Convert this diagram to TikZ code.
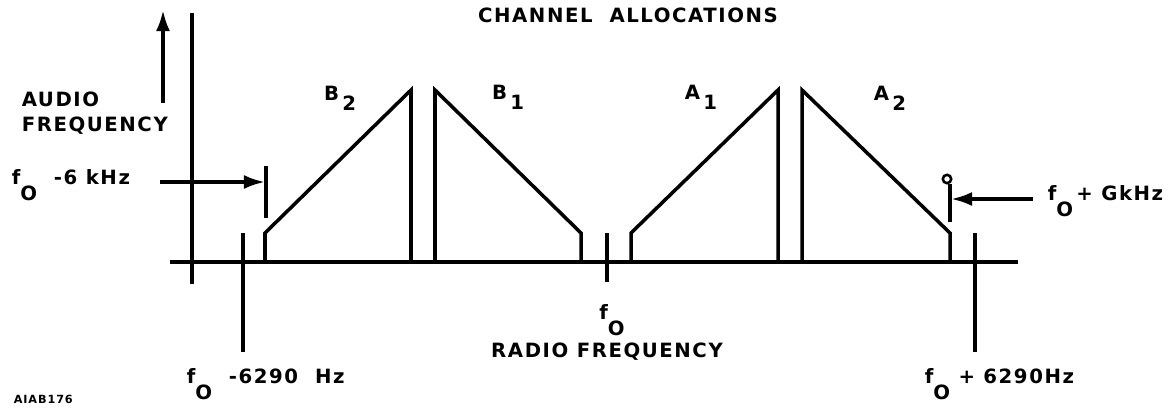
\documentclass[tikz,border=0pt]{standalone}
\usepackage{fontspec}
\setmainfont{DejaVu Sans}[LetterSpace=8]
\usetikzlibrary{arrows.meta}

\newcommand{\fsub}{f\raisebox{-1.5ex}{O}}
\newcommand{\lsub}[2]{#1\,\raisebox{-0.9ex}{#2}}

\begin{document}
\begin{tikzpicture}[x=0.025cm, y=-0.025cm, line width=2.5pt,
	lbl/.style={font=\bfseries\fontsize{14}{18}\selectfont, inner sep=0pt},
	tip/.style={-{Latex[length=15pt,width=10pt]}}]
\useasboundingbox (0,0) rectangle (1176,410);

% Ejes
	\draw (170,262) -- (1018,262);
	\draw (192,13) -- (192,284);

	\node[lbl, anchor=west, align=left] (audio) at (20,113) {AUDIO\\FREQUENCY};
	\coordinate (up0) at (163,103);
	\coordinate (up1) at (163,10);
	\draw[tip] (up0) -- (up1);

	\node[lbl] (title) at (628,15) {CHANNEL\ \ ALLOCATIONS};

% Canales
	\draw (265,262) -- (265,233) -- (411,90) -- (411,262);
	\draw (435,262) -- (435,90) -- (581,233) -- (581,262);
	\draw (631,262) -- (631,233) -- (778,90) -- (778,262);
	\draw (802,262) -- (802,90) -- (950,233) -- (950,262);

	\node[lbl] (b2) at (340,98) {\lsub{B}{2}};
	\node[lbl] (b1) at (508,97) {\lsub{B}{1}};
	\node[lbl] (a1) at (701,97) {\lsub{A}{1}};
	\node[lbl] (a2) at (890,98) {\lsub{A}{2}};

% Marcas
	\draw (243,233) -- (243,352);
	\draw (975,233) -- (975,352);
	\draw (607,233) -- (607,282);

	\node[lbl] (f0) at (612,320) {\fsub};
	\node[lbl] (radio) at (607,352) {RADIO FREQUENCY};
	\node[lbl, anchor=west] (lo) at (185,384) {\fsub\ \ -6290 \ Hz};
	\node[lbl, anchor=west] (hi) at (923,384) {\fsub\ + 6290Hz};

% Limites
	\draw (266,166) -- (266,218);
	\draw (950,184) -- (950,222);
	\draw[line width=1.8pt] (947,179) circle (4.2);

	\node[lbl, anchor=west] (lo6) at (10,185) {\fsub\ \ -6 kHz};
	\coordinate (lo6a) at (160,182);
	\coordinate (lo6b) at (265,182);
	\draw[tip] (lo6a) -- (lo6b);

	\node[lbl, anchor=west] (hi6) at (1046,201) {\fsub\,+ GkHz};
	\coordinate (hi6a) at (1033,199);
	\coordinate (hi6b) at (951,199);
	\draw[tip] (hi6a) -- (hi6b);

	\node[font=\bfseries\fontsize{8}{9}\selectfont, inner sep=0pt, anchor=west] (code) at (12,399) {AIAB176};
\end{tikzpicture}
\end{document}
